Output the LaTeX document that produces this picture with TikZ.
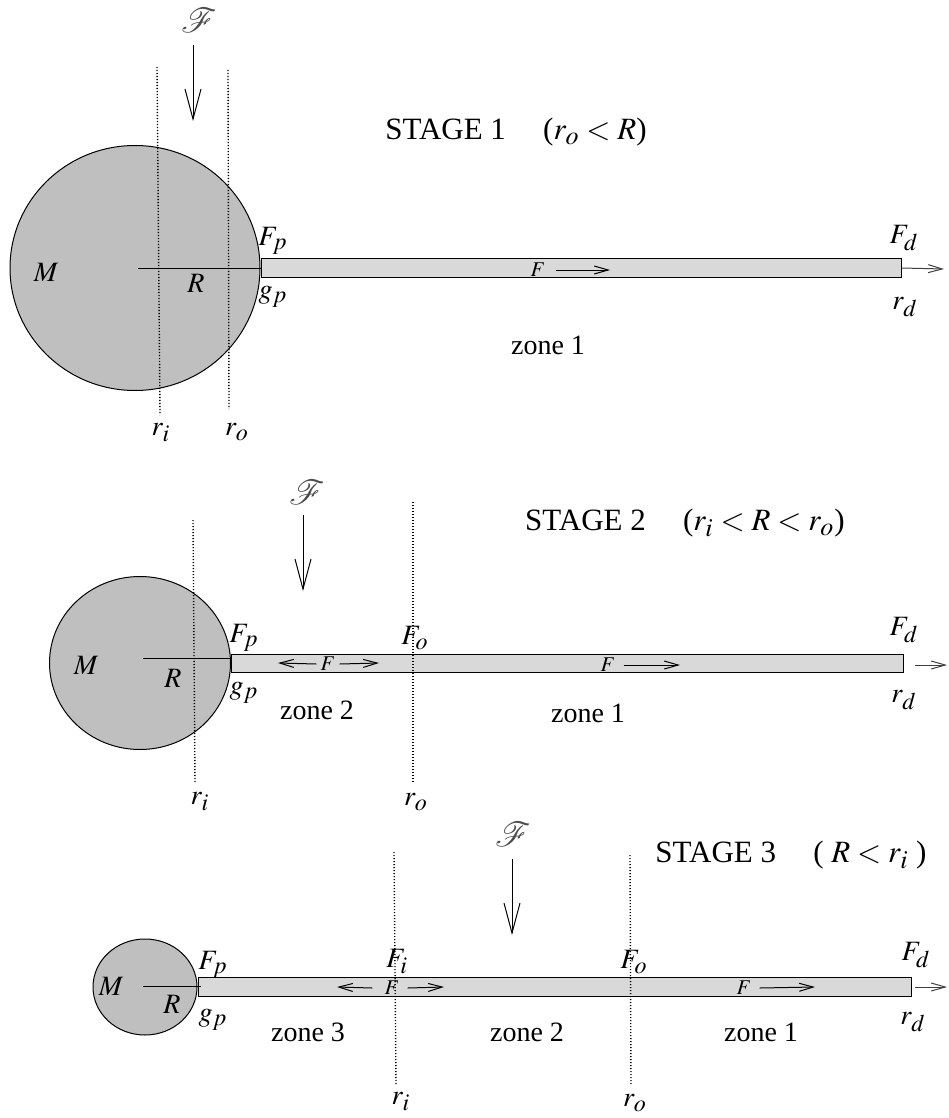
\documentclass[tikz,border=0pt]{standalone}
\usepackage{mathptmx}
\usepackage{mathrsfs}
\usepackage{fontspec}
\setmainfont{Liberation Serif}
\DeclareMathSizes{14}{14}{12}{10}
\DeclareMathSizes{10.5}{10.5}{8.5}{7}
\DeclareMathSizes{15.5}{15.5}{13}{10}
\usetikzlibrary{arrows.meta, shapes.geometric}

\begin{document}
\begin{tikzpicture}[
    x=0.5pt, y=-0.5pt,
    mass/.style={ellipse, draw, fill=gray!50, line width=0.5pt, inner sep=0pt},
    rod/.style={rectangle, draw, fill=gray!30, line width=0.5pt, inner sep=0pt, minimum height=9.5pt, anchor=west},
    radius/.style={line width=0.5pt},
    level/.style={line width=0.7pt, dash pattern=on 0.6pt off 0.9pt},
    load/.style={-{Straight Barb[length=15pt, width=8pt]}, line width=0.5pt},
    pull/.style={-{Straight Barb[length=7pt, width=4pt]}, line width=0.5pt},
    lbl/.style={font=\fontsize{14}{16}\selectfont, inner sep=0pt},
    script/.style={font=\fontsize{16}{18}\selectfont, inner sep=0pt, text=black!70},
    tag/.style={font=\fontsize{10.5}{12}\selectfont, inner sep=0pt},
    zone/.style={font=\fontsize{14}{16}\selectfont, inner sep=0pt},
    title/.style={font=\fontsize{15.5}{17}\selectfont, inner sep=0pt},
]
\useasboundingbox (0,0) rectangle (948,1118);

%% ===== STAGE 1 =====
\node[title] (title1) at (516,132) {STAGE 1\hspace{1.2em}($r_o < R$)};

% mass and rod
\node[mass, minimum width=125pt, minimum height=122.5pt] (m1) at (135,268) {};
\node[rod, minimum width=320pt] (b1) at (m1.east) {};
\draw[radius] ([xshift=1.5pt]m1.center) -- (m1.east);

% radii
\coordinate (ri1top) at (157,67);  \coordinate (ri1bot) at (160,415);
\coordinate (ro1top) at (228,70);  \coordinate (ro1bot) at (229,409);
\draw[level] (ri1top) -- (ri1bot);
\draw[level] (ro1top) -- (ro1bot);
\node[lbl] (ri1) at (161,433) {$r_i$};
\node[lbl] (ro1) at (237,432) {$r_o$};

% applied load
\node[script] (sf1) at (199,20) {$\mathscr{F}$};
\coordinate (sf1a) at (193,45); \coordinate (sf1b) at (193,121);
\draw[load] (sf1a) -- (sf1b);

% labels
\node[lbl] (M1) at (46,272) {$M$};
\node[lbl] (R1) at (196,283) {$R$};
\node[lbl] (Fp1) at (273,241) {$F_p$};
\node[lbl] (gp1) at (273,297) {$g_p$};
\node[lbl] (Fd1) at (904,238) {$F_d$};
\node[lbl] (rd1) at (905,307) {$r_d$};
\node[zone] (z11) at (548,345) {zone 1};

% forces
\node[tag] (F1) at (538,270) {$F$};
\coordinate (F1r) at (610,270);
\draw[pull] (F1.east) ++(10,0) -- (F1r);
\coordinate (d1) at (944,269);
\draw[pull, black!75] (b1.east) -- (d1);

%% ===== STAGE 2 =====
\node[title] (title2) at (685,523) {STAGE 2\hspace{1.2em}($r_i < R < r_o$)};

\node[mass, minimum width=90.5pt, minimum height=86.5pt] (m2) at (140,663) {};
\node[rod, minimum width=336pt, minimum height=9pt] (b2) at (m2.east) {};
\coordinate (c2) at (143,658);
\draw[radius] (c2) -- (c2 -| m2.east);

\coordinate (ri2top) at (193,520); \coordinate (ri2bot) at (195,783);
\coordinate (ro2top) at (413,502); \coordinate (ro2bot) at (413,783);
\draw[level] (ri2top) -- (ri2bot);
\draw[level] (ro2top) -- (ro2bot);
\node[lbl] (ri2) at (200,802) {$r_i$};
\node[lbl] (ro2) at (416,802) {$r_o$};

\node[script] (sf2) at (307,492) {$\mathscr{F}$};
\coordinate (sf2a) at (303,515); \coordinate (sf2b) at (303,591);
\draw[load] (sf2a) -- (sf2b);

\node[lbl] (M2) at (86,665) {$M$};
\node[lbl] (R2) at (173,678) {$R$};
\node[lbl] (Fp2) at (244,638) {$F_p$};
\node[lbl] (gp2) at (244,693) {$g_p$};
\node[lbl] (Fo2) at (415,638) {$F_o$};
\node[lbl] (Fd2) at (904,630) {$F_d$};
\node[lbl] (rd2) at (904,700) {$r_d$};
\node[zone] (z22) at (317,710) {zone 2};
\node[zone] (z21) at (588,713) {zone 1};

\node[tag] (F2a) at (328,664) {$F$};
\coordinate (F2al) at (278,663); \coordinate (F2ar) at (379,663);
\draw[pull] (F2a.west) ++(-4,0) -- (F2al);
\draw[pull] (F2a.east) ++(4,0) -- (F2ar);
\node[tag] (F2b) at (608,665) {$F$};
\coordinate (F2br) at (680,665);
\draw[pull] (F2b.east) ++(8,0) -- (F2br);
\coordinate (d2a) at (915,665); \coordinate (d2b) at (947,665);
\draw[pull, black!75] (d2a) -- (d2b);

%% ===== STAGE 3 =====
\node[title] (title3) at (791,855) {STAGE 3\hspace{1.2em}( $R < r_i$ )};

\node[mass, minimum width=52pt, minimum height=48pt] (m3) at (145,987) {};
\node[rod, minimum width=356.5pt] (b3) at (m3.east) {};
\coordinate (c3) at (143,986); \coordinate (c3e) at (201,986);
\draw[radius] (c3) -- (c3e);

\coordinate (ri3top) at (394,852); \coordinate (ri3bot) at (396,1085);
\coordinate (ro3top) at (630,855); \coordinate (ro3bot) at (631,1085);
\draw[level] (ri3top) -- (ri3bot);
\draw[level] (ro3top) -- (ro3bot);
\node[lbl] (ri3) at (401,1102) {$r_i$};
\node[lbl] (ro3) at (635,1103) {$r_o$};

\node[script] (sf3) at (513,834) {$\mathscr{F}$};
\coordinate (sf3a) at (512,859); \coordinate (sf3b) at (512,935);
\draw[load] (sf3a) -- (sf3b);

\node[lbl] (M3) at (111,986) {$M$};
\node[lbl] (R3) at (172,1004) {$R$};
\node[lbl] (Fp3) at (213,965) {$F_p$};
\node[lbl] (gp3) at (213,1020) {$g_p$};
\node[lbl] (Fi3) at (397,962) {$F_i$};
\node[lbl] (Fo3) at (634,962) {$F_o$};
\node[lbl] (Fd3) at (916,955) {$F_d$};
\node[lbl] (rd3) at (913,1022) {$r_d$};
\node[zone] (z33) at (308,1032) {zone 3};
\node[zone] (z32) at (527,1032) {zone 2};
\node[zone] (z31) at (761,1032) {zone 1};

\node[tag] (F3a) at (392,988) {$F$};
\coordinate (F3al) at (337,987); \coordinate (F3ar) at (444,987);
\draw[pull] (F3a.west) ++(-12,0) -- (F3al);
\draw[pull] (F3a.east) ++(8,0) -- (F3ar);
\node[tag] (F3b) at (744,988) {$F$};
\coordinate (F3br) at (815,987);
\draw[pull] (F3b.east) ++(8,0) -- (F3br);
\coordinate (d3a) at (915,987); \coordinate (d3b) at (947,987);
\draw[pull, black!75] (d3a) -- (d3b);

\end{tikzpicture}
\end{document}
